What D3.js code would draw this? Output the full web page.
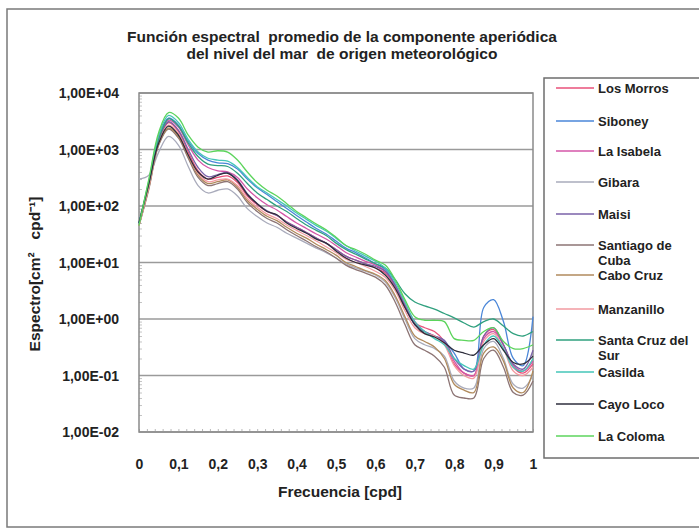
<!DOCTYPE html>
<html><head><meta charset="utf-8">
<script src="https://cdn.jsdelivr.net/npm/d3@7"></script>
<style>
html,body{margin:0;padding:0;background:#fff;}
svg{display:block;font-family:"Liberation Sans",Arial,sans-serif;}
text{white-space:pre;}
</style></head><body>
<svg id="chart" width="699" height="529"></svg>
<script>
// Frequency axis (cpd)
const freq = [0, 0.025, 0.05, 0.075, 0.1, 0.125, 0.15, 0.175, 0.2, 0.225, 0.25, 0.275, 0.3, 0.325, 0.35, 0.375, 0.4, 0.425, 0.45, 0.475, 0.5, 0.525, 0.55, 0.575, 0.6, 0.625, 0.65, 0.675, 0.7, 0.725, 0.75, 0.775, 0.8, 0.825, 0.85, 0.875, 0.9, 0.925, 0.95, 0.975, 1.0];

// Mean spectral density per station (cm² cpd⁻¹)
const losMorros = [50, 240, 1400, 3000, 2100, 900, 420, 300, 320, 340, 260, 150, 105, 80, 68, 52, 42, 34, 27, 22, 17, 13, 11, 9.5, 8, 6.5, 3.8, 1.6, 0.85, 0.7, 0.6, 0.4, 0.16, 0.11, 0.1, 0.5, 0.65, 0.35, 0.14, 0.11, 0.16];
const siboney = [48, 260, 1700, 3600, 2700, 1400, 850, 650, 580, 560, 450, 300, 210, 160, 120, 90, 68, 52, 40, 32, 24, 18, 15, 12, 9.5, 7.5, 4, 1.8, 0.8, 0.6, 0.5, 0.4, 0.25, 0.13, 0.12, 1.6, 2.2, 0.9, 0.2, 0.15, 1.1];
const laIsabela = [50, 260, 1600, 3300, 2500, 1200, 650, 480, 420, 400, 320, 200, 140, 105, 85, 65, 50, 40, 32, 26, 20, 15, 12.5, 10.5, 9, 7, 4, 1.8, 0.9, 0.6, 0.5, 0.38, 0.18, 0.11, 0.1, 0.45, 0.6, 0.35, 0.15, 0.12, 0.18];
const gibara = [300, 350, 900, 1700, 1200, 500, 230, 170, 190, 200, 150, 90, 65, 50, 42, 33, 27, 22, 18, 15, 12, 9.5, 8, 7, 6, 4.5, 2.4, 1, 0.45, 0.35, 0.3, 0.22, 0.08, 0.06, 0.06, 0.3, 0.4, 0.2, 0.07, 0.06, 0.1];
const maisi = [50, 250, 1500, 3100, 2200, 1000, 480, 330, 360, 390, 290, 165, 110, 82, 68, 52, 42, 34, 27, 22, 17, 13, 11, 9.5, 8.5, 7, 4, 1.7, 0.8, 0.6, 0.5, 0.42, 0.2, 0.13, 0.12, 0.5, 0.7, 0.35, 0.16, 0.13, 0.28];
const santiagoDeCuba = [45, 200, 1200, 2300, 1600, 700, 320, 230, 250, 270, 200, 115, 80, 60, 50, 38, 30, 24, 19, 15.5, 12, 9, 7.5, 6.5, 5.5, 4, 2, 0.8, 0.35, 0.28, 0.22, 0.14, 0.045, 0.04, 0.04, 0.2, 0.28, 0.14, 0.05, 0.045, 0.08];
const caboCruz = [45, 210, 1250, 2400, 1700, 750, 350, 250, 270, 290, 215, 125, 88, 66, 55, 42, 33, 27, 21, 17, 13.5, 10, 8.5, 7.2, 6.2, 4.8, 2.6, 1.1, 0.5, 0.4, 0.32, 0.2, 0.07, 0.055, 0.05, 0.25, 0.32, 0.18, 0.06, 0.05, 0.12];
const manzanillo = [45, 220, 1300, 2700, 1900, 800, 380, 270, 290, 300, 230, 135, 95, 72, 60, 46, 37, 30, 24, 19, 15, 11.5, 10, 8.5, 7, 5.5, 3.2, 1.4, 0.7, 0.55, 0.5, 0.35, 0.15, 0.1, 0.09, 0.4, 0.55, 0.3, 0.12, 0.1, 0.14];
const santaCruzDelSur = [50, 250, 1500, 3500, 2600, 1300, 750, 550, 520, 500, 380, 250, 170, 130, 100, 80, 60, 46, 37, 30, 22, 17, 14, 11.5, 9.5, 8, 5, 2.8, 2, 1.7, 1.5, 1.25, 1.05, 0.85, 0.72, 0.9, 1.0, 0.75, 0.55, 0.5, 0.6];
const casilda = [50, 280, 1800, 4000, 3000, 1500, 900, 700, 650, 620, 480, 320, 220, 170, 130, 100, 75, 58, 45, 36, 27, 20, 16, 13, 10.5, 8, 4.5, 2, 0.9, 0.6, 0.45, 0.35, 0.2, 0.15, 0.13, 0.35, 0.5, 0.3, 0.14, 0.12, 0.2];
const cayoLoco = [50, 250, 1300, 2600, 1800, 800, 400, 300, 350, 380, 280, 160, 110, 80, 70, 50, 40, 33, 26, 22, 16, 12, 10, 9, 8, 6, 3.5, 1.6, 0.8, 0.55, 0.48, 0.38, 0.28, 0.25, 0.23, 0.35, 0.45, 0.28, 0.17, 0.16, 0.22];
const laColoma = [45, 300, 2000, 4500, 3600, 1800, 1100, 900, 950, 900, 650, 400, 260, 190, 150, 110, 80, 62, 48, 38, 28, 20, 17, 14, 11, 9, 5, 2.2, 1.1, 0.95, 0.95, 0.9, 0.45, 0.42, 0.42, 0.6, 0.7, 0.4, 0.3, 0.3, 0.35];

const seriesNames = ["Los Morros", "Siboney", "La Isabela", "Gibara", "Maisi", "Santiago de\nCuba", "Cabo Cruz", "Manzanillo", "Santa Cruz del\nSur", "Casilda", "Cayo Loco", "La Coloma"];
const seriesValues = [losMorros, siboney, laIsabela, gibara, maisi, santiagoDeCuba, caboCruz, manzanillo, santaCruzDelSur, casilda, cayoLoco, laColoma];
const seriesColors = ["#e8507a", "#4a86d8", "#d456a8", "#a9abbb", "#7a62a8", "#8c7474", "#b08a5c", "#f29aa0", "#2fa07e", "#45c6b8", "#2e2e3c", "#5cd45c"];

const yTicks = [1e-2, 1e-1, 1e0, 1e1, 1e2, 1e3, 1e4];
const xTicks = [0, 0.1, 0.2, 0.3, 0.4, 0.5, 0.6, 0.7, 0.8, 0.9, 1];

const titleLines = ["Función espectral  promedio de la componente aperiódica", "del nivel del mar  de origen meteorológico"];
const xTitle = "Frecuencia [cpd]";
const yTitle = "Espectro[cm²   cpd⁻¹]";

const svg = d3.select("#chart");
const plot = {left: 139, right: 533, top: 93, bottom: 432};
const FONT = "Liberation Sans, Arial, sans-serif";

// outer chart frame
svg.append("rect").attr("x", 7).attr("y", 9).attr("width", 720).attr("height", 518)
  .attr("fill", "#fff").attr("stroke", "#7a7a7a").attr("stroke-width", 1.5);

// title
svg.append("g").selectAll("text").data(titleLines).join("text")
  .attr("x", 342).attr("y", (d, i) => 42 + i * 17)
  .attr("text-anchor", "middle").attr("font-size", 15.5).attr("font-weight", "bold").attr("fill", "#222")
  .text(d => d);

const x = d3.scaleLinear().domain([0, 1]).range([plot.left, plot.right]);
const y = d3.scaleLog().domain([1e-2, 1e4]).range([plot.bottom, plot.top]);

const locale = d3.formatLocale({decimal: ",", thousands: ".", grouping: [3], currency: ["", "€"]});
const fx = locale.format("~g");
const fy = v => {
  const e = Math.round(Math.log10(v));
  return "1,00E" + (e < 0 ? "-" : "+") + String(Math.abs(e)).padStart(2, "0");
};

// horizontal gridlines at each decade
svg.append("g").selectAll("line").data(yTicks).join("line")
  .attr("x1", plot.left).attr("x2", plot.right)
  .attr("y1", d => y(d)).attr("y2", d => y(d))
  .attr("stroke", "#9a9a9a").attr("stroke-width", 1.5);

// minor ticks on the left axis
const minorY = [];
for (let e = -2; e < 4; e++) for (let k = 2; k <= 9; k++) minorY.push(k * Math.pow(10, e));
svg.append("g").attr("transform", `translate(${plot.left},0)`)
  .call(d3.axisRight(y).tickValues(minorY).tickSize(3).tickFormat(""))
  .call(g => g.select(".domain").remove())
  .call(g => g.selectAll("line").attr("stroke", "#c4c4c4"));

// minor ticks on the bottom axis
svg.append("g").attr("transform", `translate(0,${plot.bottom})`)
  .call(d3.axisTop(x).tickValues(d3.range(0, 1.0001, 0.02)).tickSize(3).tickFormat(""))
  .call(g => g.select(".domain").remove())
  .call(g => g.selectAll("line").attr("stroke", "#b8b8b8"));

// plot border
svg.append("rect").attr("x", plot.left).attr("y", plot.top)
  .attr("width", plot.right - plot.left).attr("height", plot.bottom - plot.top)
  .attr("fill", "none").attr("stroke", "#8a8a8a").attr("stroke-width", 1.5);

// axis labels
svg.append("g").attr("transform", `translate(${plot.left - 17},0)`)
  .call(d3.axisLeft(y).tickValues(yTicks).tickSize(0).tickFormat(fy))
  .call(g => g.select(".domain").remove())
  .call(g => g.selectAll("text").attr("font-size", 14).attr("font-weight", "bold").attr("fill", "#222")
    .attr("font-family", FONT).attr("dy", "0.35em"));

svg.append("g").attr("transform", `translate(0,${plot.bottom + 24})`)
  .call(d3.axisBottom(x).tickValues(xTicks).tickSize(0).tickFormat(fx))
  .call(g => g.select(".domain").remove())
  .call(g => g.selectAll("text").attr("font-size", 14).attr("font-weight", "bold").attr("fill", "#222")
    .attr("font-family", FONT));

svg.append("text").attr("x", 340).attr("y", 497).attr("text-anchor", "middle")
  .attr("font-size", 15.5).attr("font-weight", "bold").attr("fill", "#222").text(xTitle);

svg.append("text").attr("transform", "translate(40,274) rotate(-90)").attr("text-anchor", "middle")
  .attr("font-size", 15.5).attr("font-weight", "bold").attr("fill", "#222").text(yTitle);

// spectra
const line = d3.line().x((d, i) => x(freq[i])).y(d => y(d)).curve(d3.curveCatmullRom.alpha(0.5));
svg.append("g").selectAll("path").data(seriesValues).join("path")
  .attr("d", d => line(d)).attr("fill", "none")
  .attr("stroke", (d, i) => seriesColors[i]).attr("stroke-width", 1.3);

// legend
const legendY = [88, 121, 151, 182, 214, 245, 275, 309, 340, 372, 404, 436];
svg.append("rect").attr("x", 544).attr("y", 78).attr("width", 180).attr("height", 380)
  .attr("fill", "#fff").attr("stroke", "#6e6e6e").attr("stroke-width", 1.5);
const items = svg.append("g").selectAll("g").data(seriesNames).join("g")
  .attr("transform", (d, i) => `translate(0,${legendY[i]})`);
items.append("line").attr("x1", 556).attr("x2", 594).attr("y1", 0).attr("y2", 0)
  .attr("stroke", (d, i) => seriesColors[i]).attr("stroke-width", 1.5);
items.append("text").attr("x", 598).attr("font-size", 13).attr("font-weight", "bold").attr("fill", "#222")
  .selectAll("tspan").data(d => d.split("\n")).join("tspan")
  .attr("x", 598).attr("dy", (d, i) => i === 0 ? "0.35em" : "15px").text(d => d);
</script>
</body></html>
